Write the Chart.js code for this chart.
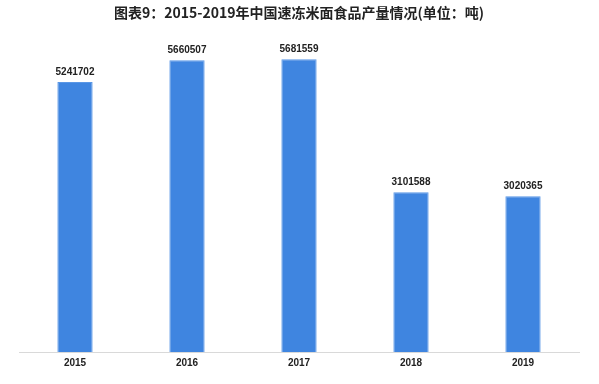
<!DOCTYPE html>
<html>
<head>
<meta charset="utf-8">
<script src="https://cdn.jsdelivr.net/npm/chart.js@4"></script>
<style>
  html, body { margin: 0; padding: 0; background: #fff; }
  #wrap { width: 599px; height: 384px; }
</style>
</head>
<body>
<div id="wrap"><canvas id="chart" width="599" height="384"></canvas></div>
<script>
const titleText = '图表9：2015-2019年中国速冻米面食品产量情况(单位：吨)';
const years = ['2015', '2016', '2017', '2018', '2019'];
const output = [5241702, 5660507, 5681559, 3101588, 3020365];

// draw the number above each bar
const valueLabels = {
  id: 'valueLabels',
  afterDatasetsDraw(chart) {
    const ctx = chart.ctx;
    const meta = chart.getDatasetMeta(0);
    ctx.save();
    ctx.font = 'bold 10px "Liberation Sans", Arial, sans-serif';
    ctx.fillStyle = '#222';
    ctx.textAlign = 'center';
    ctx.textBaseline = 'middle';
    meta.data.forEach((bar, i) => {
      ctx.fillText(String(output[i]), bar.x, bar.y - 10);
    });
    ctx.restore();
  }
};

new Chart(document.getElementById('chart').getContext('2d'), {
  type: 'bar',
  data: {
    labels: years,
    datasets: [{
      data: output,
      backgroundColor: '#3f85e0',
      borderColor: '#5a97e6',
      borderWidth: 1,
      barPercentage: 0.315,
      categoryPercentage: 1
    }]
  },
  options: {
    responsive: false,
    animation: false,
    layout: { padding: { left: 19, right: 20, top: 4, bottom: 10 } },
    plugins: {
      legend: { display: false },
      tooltip: { enabled: false },
      title: {
        display: true,
        text: titleText,
        color: '#222',
        font: { size: 14, weight: 'bold', family: '"Noto Sans CJK SC", sans-serif' },
        padding: { top: 0, bottom: 22 }
      }
    },
    scales: {
      x: {
        grid: { display: false, drawTicks: false },
        border: { color: '#d9d9d9', width: 1 },
        ticks: {
          color: '#222',
          padding: 5,
          font: { size: 10, weight: 'bold', family: '"Liberation Sans", Arial, sans-serif' }
        }
      },
      y: {
        display: false,
        min: 0,
        max: 6000000
      }
    }
  },
  plugins: [valueLabels]
});
</script>
</body>
</html>
